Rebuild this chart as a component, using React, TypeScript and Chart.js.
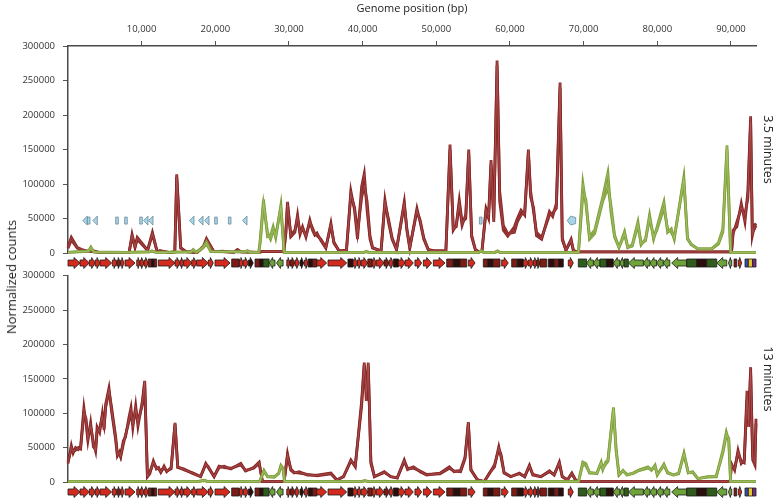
import React, { useEffect, useRef } from 'react';
import { Chart, registerables } from 'chart.js';
Chart.register(...registerables);

const FONT = "'Open Sans', 'Noto Sans', sans-serif";
const X_MAX = 93400;
const xTickValues = [10000, 20000, 30000, 40000, 50000, 60000, 70000, 80000, 90000];
const yTickValues = [0, 50000, 100000, 150000, 200000, 250000, 300000];
const panelLabels = ['3.5 minutes', '13 minutes'];

// [genome position (bp), replicate 1, replicate 2]
const topRed: [number, number, number][] = [
  [0, 9000, 7000], [450, 22700, 19000], [1260, 8000, 7000], [1900, 5000, 4000], [2500, 3000, 2500],
  [3500, 3000, 2000], [4200, 1000, 800], [8300, 1000, 800], [8700, 27000, 24000], [9100, 9000, 8000],
  [9400, 22700, 20000], [10800, 4000, 3500], [11460, 30000, 27000], [12100, 2000, 2000], [12500, 3500, 3000],
  [13800, 500, 500], [14500, 2000, 1500], [14760, 114000, 110000], [15300, 8000, 7000], [16000, 2000, 2000],
  [17500, 800, 800], [18400, 10000, 9000], [18800, 21000, 18000], [19800, 2000, 2000], [21000, 2500, 2000],
  [22500, 1000, 1000], [23000, 5000, 4000], [23500, 1500, 1500], [25900, 1000, 1000], [26300, 2000, 2000],
  [29300, 2000, 2000], [29570, 30000, 28000], [29800, 74000, 70000], [30250, 23600, 26000], [30800, 30000, 33000],
  [31160, 55000, 50000], [31500, 27000, 30000], [31840, 38000, 35000], [32300, 23000, 25000], [32830, 47700, 44000],
  [33200, 33000, 36000], [33500, 26000, 28000], [33800, 29000, 25000], [34330, 18000, 20000], [35000, 7000, 8000],
  [35690, 43000, 40000], [36100, 14000, 16000], [36800, 3000, 3000], [37800, 3000, 4000], [38400, 89700, 84000],
  [38900, 62000, 66000], [39300, 20000, 30000], [39860, 96000, 80000], [40220, 115000, 98000], [40600, 62000, 75000],
  [41000, 20000, 25000], [41350, 7000, 8000], [42500, 3000, 3000], [43030, 76700, 72000], [43500, 45000, 50000],
  [44000, 20000, 22000], [44600, 5000, 5000], [45650, 74000, 70000], [46000, 33000, 36000], [46400, 7000, 8000],
  [47370, 64700, 60000], [47800, 45000, 48000], [48300, 20000, 22000], [48900, 5000, 5000], [49700, 3000, 3000],
  [51300, 3000, 3000], [51860, 157000, 150000], [52300, 33000, 36000], [52700, 40000, 38000], [53120, 76700, 70000],
  [53500, 45000, 40000], [54000, 50000, 56000], [54400, 150000, 145000], [54800, 23000, 26000], [55300, 5000, 5000],
  [55800, 1500, 1500], [56200, 3000, 3000], [56750, 64700, 60000], [57100, 55000, 50000], [57430, 134600, 128000],
  [57800, 45000, 50000], [58250, 279000, 272000], [58600, 75000, 90000], [59100, 33000, 40000], [59700, 24600, 28000],
  [60600, 38000, 30000], [61000, 50000, 45000], [61500, 62000, 55000], [62000, 55000, 60000], [62500, 150000, 145000],
  [62800, 81000, 90000], [63200, 66000, 60000], [63600, 25000, 30000], [64300, 20000, 22000], [65360, 60000, 55000],
  [65800, 53000, 58000], [66300, 72000, 65000], [66800, 247000, 240000], [67100, 19000, 22000], [67600, 4000, 4000],
  [68300, 20000, 18000], [68600, 4000, 4000], [69000, 1500, 1500], [89900, 1500, 1500], [90100, 5000, 4000],
  [90300, 33000, 28000], [90800, 38000, 45000], [91400, 72000, 65000], [91900, 45000, 55000], [92300, 90000, 80000],
  [92670, 198000, 190000], [92900, 25000, 30000], [93200, 40000, 35000], [93400, 43000, 40000],
];

const topGreen: [number, number, number][] = [
  [0, 1000, 800], [2800, 3000, 2500], [3100, 8700, 7000], [3500, 1500, 1200], [8000, 1000, 1000],
  [11000, 1500, 1500], [11400, 3000, 2500], [12000, 800, 800], [16700, 1500, 1500], [17000, 5000, 4000],
  [17400, 1000, 1000], [18300, 8000, 7000], [18800, 16000, 13000], [19400, 2000, 2000], [24000, 1500, 1500],
  [24370, 3500, 3000], [24700, 1000, 1000], [25900, 1000, 1000], [26100, 20000, 15000], [26540, 77700, 70000],
  [27080, 23600, 30000], [27500, 25000, 20000], [27850, 38000, 32000], [28200, 22000, 26000], [28900, 69500, 65000],
  [29340, 1000, 1000], [40200, 1000, 1000], [40500, 2500, 2000], [40800, 1000, 1000], [55800, 1000, 1000],
  [56070, 3500, 3000], [56400, 1000, 1000], [58000, 1000, 1000], [58300, 3000, 2500], [58600, 1000, 1000],
  [69300, 1000, 1000], [69900, 100800, 85000], [70300, 72000, 78000], [70800, 23600, 20000], [71500, 33000, 28000],
  [72600, 81000, 75000], [73290, 116000, 95000], [73700, 60000, 70000], [74200, 23000, 26000], [74800, 8000, 8000],
  [75550, 31000, 27000], [76000, 8000, 8000], [76600, 12000, 10000], [77370, 45000, 40000], [77800, 12000, 14000],
  [78400, 20000, 18000], [78950, 55000, 50000], [79500, 20000, 24000], [79900, 35000, 32000], [80900, 74000, 65000],
  [81400, 30000, 35000], [81900, 35000, 30000], [82300, 20000, 22000], [83600, 110000, 105000], [84100, 20000, 22000],
  [84600, 13000, 12000], [85500, 6000, 6000], [87400, 6000, 6000], [88300, 15000, 13000], [88900, 35000, 30000],
  [89460, 156000, 150000], [89950, 1000, 1000], [93400, 1000, 1000],
];

const bottomRed: [number, number, number][] = [
  [0, 27000, 30000], [450, 53000, 48000], [700, 42000, 45000], [1030, 50000, 46000], [1400, 47000, 50000],
  [1710, 51000, 48000], [2160, 108000, 100000], [2450, 85000, 92000], [2700, 60000, 65000], [3070, 86000, 80000],
  [3450, 51000, 58000], [3750, 47000, 45000], [3950, 80000, 72000], [4300, 72000, 78000], [4660, 99000, 95000],
  [4900, 76000, 82000], [5110, 113000, 108000], [5560, 136500, 132000], [5900, 104000, 110000], [6470, 61000, 66000],
  [6700, 38000, 42000], [7000, 44000, 40000], [7150, 38000, 36000], [7510, 60000, 55000], [7800, 65000, 68000],
  [8280, 94000, 88000], [8550, 108000, 100000], [8800, 79000, 85000], [9190, 111000, 105000], [9500, 81000, 88000],
  [10100, 118000, 112000], [10410, 147000, 145000], [10780, 7600, 9000], [11100, 12000, 14000], [11590, 30700, 28000],
  [12000, 19000, 21000], [12300, 21000, 19000], [12600, 14000, 15000], [13040, 23000, 21000], [13400, 15000, 16000],
  [14000, 21000, 19000], [14530, 86000, 84000], [14900, 21000, 22000], [15700, 19000, 18000], [17000, 12000, 13000],
  [18000, 7600, 8000], [18700, 27000, 25000], [19000, 22000, 23000], [19830, 7600, 8000], [20500, 21000, 23000],
  [21200, 23000, 21000], [22100, 19000, 20000], [23460, 27000, 25000], [24100, 16000, 17000], [25200, 21000, 20000],
  [25950, 29000, 27000], [26400, 500, 500], [29340, 500, 500], [29800, 41000, 38000], [30250, 17000, 19000],
  [30700, 13000, 14000], [31400, 15000, 13000], [32500, 10000, 11000], [33800, 10000, 9000], [35690, 13000, 12000],
  [36500, 3000, 3000], [37400, 7600, 8000], [38400, 32000, 30000], [39000, 22000, 25000], [39860, 118000, 110000],
  [40220, 173500, 170000], [40500, 118000, 130000], [40760, 173500, 168000], [41120, 27000, 30000], [41600, 7600, 8000],
  [42940, 15000, 14000], [43800, 7600, 8000], [44700, 6000, 6000], [45650, 32000, 30000], [46100, 18000, 20000],
  [46900, 22000, 20000], [47800, 15000, 16000], [48700, 10000, 11000], [50500, 13000, 12000], [51770, 22000, 20000],
  [52400, 15000, 16000], [53300, 17000, 15000], [53900, 36000, 34000], [54350, 87000, 85000], [54700, 17000, 18000],
  [55600, 3000, 3000], [56500, 500, 500], [57200, 13000, 12000], [57900, 22000, 25000], [58480, 51000, 48000],
  [58790, 36000, 40000], [59200, 13000, 14000], [60100, 7600, 8000], [61280, 13000, 12000], [62000, 7600, 8000],
  [62640, 24500, 23000], [63100, 10000, 11000], [64200, 7600, 8000], [65350, 16300, 15000], [66000, 10000, 11000],
  [66700, 29000, 27000], [67100, 7600, 8000], [67800, 3000, 3000], [68400, 13000, 12000], [68900, 3000, 3000],
  [69300, 500, 500], [89900, 500, 500], [90050, 27000, 24000], [90500, 17000, 20000], [90960, 46000, 42000],
  [91400, 27000, 30000], [91800, 32000, 28000], [92180, 132700, 120000], [92400, 80000, 90000], [92670, 167000, 160000],
  [92950, 32000, 38000], [93250, 24500, 30000], [93400, 92000, 85000],
];

const bottomGreen: [number, number, number][] = [
  [0, 500, 500], [17500, 500, 500], [18500, 2500, 2000], [19000, 500, 500], [26000, 500, 500],
  [26600, 17000, 15000], [27100, 7600, 8000], [28000, 7600, 7000], [28600, 13000, 12000], [28900, 24500, 22000],
  [29200, 20000, 18000], [29400, 500, 500], [39800, 500, 500], [40300, 2000, 2000], [40800, 500, 500],
  [69300, 500, 500], [69890, 29000, 26000], [70300, 27000, 24000], [70800, 13000, 14000], [71800, 13000, 12000],
  [72380, 29000, 27000], [72600, 18000, 20000], [73000, 29000, 26000], [73300, 32000, 30000], [74050, 108500, 105000],
  [74400, 46000, 50000], [74800, 10000, 11000], [75350, 17000, 16000], [75900, 10000, 11000], [76700, 13000, 12000],
  [77400, 17000, 16000], [78730, 22000, 20000], [79200, 17000, 18000], [79700, 24500, 22000], [80000, 10000, 11000],
  [80900, 26000, 24000], [81400, 13000, 14000], [82200, 10000, 10000], [82900, 13000, 12000], [83620, 42000, 40000],
  [84200, 13000, 14000], [84800, 15000, 14000], [85500, 5000, 5000], [86800, 7600, 7000], [88000, 7600, 8000],
  [88900, 46000, 42000], [89370, 72500, 68000], [89700, 60000, 64000], [89950, 500, 500], [93400, 500, 500],
];

// genes: [start, end, direction (1 right, -1 left, 0 block), colour key]
const genes: [number, number, number, string][] = [
  [0, 1630, 1, 'r'], [1630, 2900, 1, 'r'], [2900, 3670, 1, 'r'], [3670, 4340, 1, 'r'], [4340, 5930, 1, 'r'],
  [6020, 6610, 1, 'r'], [6610, 7150, 1, 'm'], [7150, 7600, 1, 'r'], [7740, 9100, 1, 'r'], [9330, 9770, 1, 'r'],
  [9770, 10320, 1, 'r'], [10320, 10900, 1, 'r'], [10900, 11350, 0, 'm'], [11350, 11700, 0, 'k'], [11700, 12030, 0, 'm'],
  [12260, 14530, 1, 'r'], [14530, 15200, 1, 'r'], [15200, 15700, 1, 'r'], [15700, 16800, 1, 'r'], [16800, 17460, 1, 'r'],
  [17460, 19050, 1, 'r'], [19050, 19730, 1, 'r'], [19960, 22000, 1, 'r'], [22220, 23260, 0, 'm'], [23260, 23800, 1, 'r'],
  [23800, 24480, 1, 'r'], [24480, 25150, 1, 'k'], [25390, 26000, 0, 'm'], [26000, 26500, 0, 'k'], [26500, 27300, 0, 'd'],
  [27300, 28100, -1, 'g'], [28300, 29200, -1, 'g'], [29700, 30140, 1, 'r'], [30140, 30820, 1, 'm'], [30820, 31400, 1, 'r'],
  [31500, 32000, 1, 'k'], [32100, 32600, 1, 'r'], [32600, 33200, 0, 'k'], [33200, 33770, 0, 'm'], [33770, 35120, 1, 'r'],
  [35300, 37840, 1, 'r'], [38000, 38700, 0, 'k'], [38700, 39300, 1, 'r'], [39300, 39800, 1, 'r'], [39800, 40700, 1, 'r'],
  [40700, 41300, 0, 'm'], [41300, 41850, 1, 'r'], [41850, 42900, 1, 'r'], [42900, 43600, 1, 'm'], [43600, 44170, 1, 'r'],
  [44170, 44850, 0, 'k'], [44850, 45750, 1, 'r'], [45750, 46880, 1, 'r'], [47100, 48010, 1, 'r'], [48240, 49370, 1, 'r'],
  [49600, 51180, 1, 'r'], [51410, 52300, 0, 'm'], [52300, 53220, 0, 'k'], [53220, 54130, 0, 'm'], [54350, 55260, 1, 'r'],
  [56380, 57000, 0, 'm'], [57000, 57700, 0, 'k'], [57700, 58650, 0, 'm'], [58870, 59770, 1, 'r'], [60230, 61000, 0, 'm'],
  [61000, 61810, 0, 'k'], [61810, 62490, 1, 'r'], [62490, 63200, 1, 'r'], [63200, 63600, 1, 'r'], [63600, 64080, 1, 'm'],
  [64080, 64990, 0, 'm'], [65200, 66000, 0, 'k'], [66000, 66600, 0, 'm'], [66600, 67240, 0, 'k'], [67920, 68600, 1, 'r'],
  [69280, 70410, 0, 'd'], [70410, 71320, -1, 'g'], [71320, 72220, -1, 'g'], [72220, 73100, 0, 'd'], [73100, 74030, 0, 'k'],
  [74030, 74930, -1, 'g'], [74930, 75500, -1, 'g'], [75500, 76070, 0, 'd'], [76070, 78110, -1, 'g'], [78110, 79010, -1, 'g'],
  [79010, 79910, -1, 'g'], [79910, 80810, -1, 'g'], [80810, 81700, -1, 'g'], [81950, 83990, -1, 'g'], [83990, 85350, 0, 'd'],
  [85350, 86700, 0, 'k'], [86700, 88070, 0, 'd'], [88070, 89430, -1, 'g'], [89660, 90110, -1, 'g'], [90420, 90780, 0, 'm'],
  [91000, 91460, 1, 'r'], [91910, 92360, 0, 'b'], [92360, 92950, 0, 'y'], [92950, 93400, 0, 'p'],
];

// small light-blue features in the top panel: [position, shape], drawn at markerLevel
const markers: [number, string][] = [
  [2350, 'L'], [2810, 'B'], [3710, 'L'], [6650, 'B'], [7870, 'B'], [9910, 'B'], [10590, 'L'], [11270, 'L'],
  [16830, 'L'], [18060, 'L'], [18870, 'L'], [20090, 'B'], [21950, 'B'], [24030, 'L'], [56030, 'B'], [68380, 'D'],
];
const markerLevel = 47000;

const GENE_COLORS: Record<string, string> = {
  r: '#d42a1d', m: '#7c1c16', k: '#2b0f0c', g: '#6ea33a', d: '#2f5b1d', b: '#3550b0', y: '#e6c62a', p: '#7a2f86',
};

const RED = '#8a2626';
const RED_LIGHT = 'rgba(190,110,110,0.55)';
const GREEN = '#7fa13a';
const GREEN_LIGHT = 'rgba(190,214,140,0.6)';

function seriesSets(rows: [number, number, number][], color: string, light: string, baseOrder: number) {
  const r1 = rows.map((r) => ({ x: r[0], y: r[1] }));
  const r2 = rows.map((r) => ({ x: r[0], y: r[2] }));
  const mk = (data: any, c: string, w: number, order: number) => ({
    data, borderColor: c, borderWidth: w, pointRadius: 0, tension: 0, fill: false, order, clip: 4,
  });
  return [mk(r1, color, 2.8, baseOrder + 3), mk(r2, color, 2.8, baseOrder + 2), mk(r1, light, 0.6, baseOrder + 1), mk(r2, light, 0.6, baseOrder)];
}

const genePlugin = {
  id: 'genes',
  afterDraw(chart: any) {
    const { ctx, chartArea, scales } = chart;
    const x = scales.x;
    const cy = chartArea.bottom + 10;
    ctx.save();
    ctx.lineWidth = 0.8;
    ctx.strokeStyle = '#1a1a1a';
    for (const [s, e, dir, c] of genes) {
      const x0 = x.getPixelForValue(s);
      const x1 = x.getPixelForValue(e);
      const w = x1 - x0;
      ctx.beginPath();
      if (dir === 0) {
        ctx.rect(x0, cy - 4, w, 8);
      } else {
        const head = Math.min(6, w * 0.6);
        if (dir > 0) {
          ctx.moveTo(x0, cy - 3);
          ctx.lineTo(x1 - head, cy - 3);
          ctx.lineTo(x1 - head, cy - 5.5);
          ctx.lineTo(x1, cy);
          ctx.lineTo(x1 - head, cy + 5.5);
          ctx.lineTo(x1 - head, cy + 3);
          ctx.lineTo(x0, cy + 3);
        } else {
          ctx.moveTo(x1, cy - 3);
          ctx.lineTo(x0 + head, cy - 3);
          ctx.lineTo(x0 + head, cy - 5.5);
          ctx.lineTo(x0, cy);
          ctx.lineTo(x0 + head, cy + 5.5);
          ctx.lineTo(x0 + head, cy + 3);
          ctx.lineTo(x1, cy + 3);
        }
        ctx.closePath();
      }
      ctx.fillStyle = GENE_COLORS[c];
      ctx.fill();
      ctx.stroke();
    }
    ctx.restore();
  },
};

const markerPlugin = {
  id: 'markers',
  afterDatasetsDraw(chart: any) {
    const { ctx, scales } = chart;
    const yPix = scales.y.getPixelForValue(markerLevel);
    ctx.save();
    ctx.fillStyle = '#a8d4e8';
    ctx.strokeStyle = '#6b8c9c';
    ctx.lineWidth = 0.8;
    for (const [pos, shape] of markers) {
      const px = scales.x.getPixelForValue(pos);
      ctx.beginPath();
      if (shape === 'L') {
        ctx.moveTo(px + 2, yPix - 4.5);
        ctx.lineTo(px - 2.5, yPix);
        ctx.lineTo(px + 2, yPix + 4.5);
        ctx.closePath();
      } else if (shape === 'B') {
        ctx.rect(px - 1.3, yPix - 3.5, 2.6, 7);
      } else {
        ctx.moveTo(px - 4.5, yPix);
        ctx.lineTo(px - 1, yPix - 4.5);
        ctx.lineTo(px + 4, yPix - 3);
        ctx.lineTo(px + 4, yPix + 3);
        ctx.lineTo(px - 1, yPix + 4.5);
        ctx.closePath();
      }
      ctx.fill();
      ctx.stroke();
    }
    ctx.restore();
  },
};

function yAxis() {
  return {
    type: 'linear',
    position: 'left',
    min: 0,
    max: 300000,
    afterBuildTicks: (s: any) => { s.ticks = yTickValues.map((v) => ({ value: v })); },
    afterFit: (s: any) => { s.width = 68; },
    ticks: { callback: (v: any) => String(v), padding: 8, color: '#333', font: { family: FONT, size: 9.5 } },
    grid: { display: true, drawOnChartArea: false, drawTicks: true, tickLength: 5, color: '#555' },
    border: { display: true, color: '#4a4a4a', width: 1.5 },
  };
}

function rightAxis(label: string) {
  return {
    type: 'linear',
    position: 'right',
    min: 0,
    max: 1,
    afterFit: (s: any) => { s.width = 20; },
    ticks: { display: false },
    grid: { display: false, drawTicks: false },
    border: { display: false },
    title: { display: true, text: label, color: '#222', font: { family: FONT, size: 12.5 }, padding: { top: 1, bottom: 0 } },
  };
}

export default function App() {
  const refA = useRef<HTMLCanvasElement>(null);
  const refB = useRef<HTMLCanvasElement>(null);

  useEffect(() => {
    const common = { responsive: false, animation: false, plugins: { legend: { display: false }, tooltip: { enabled: false } } };
    const chartA = new Chart(refA.current as HTMLCanvasElement, {
      type: 'line',
      data: {
        datasets: [
          ...seriesSets(topRed, RED, RED_LIGHT, 20),
          ...seriesSets(topGreen, GREEN, GREEN_LIGHT, 0),
        ],
      },
      options: {
        ...common,
        layout: { padding: { top: 0, bottom: 17, left: 0, right: 0 } },
        scales: {
          x: {
            type: 'linear',
            position: 'top',
            min: 0,
            max: X_MAX,
            afterBuildTicks: (s: any) => { s.ticks = xTickValues.map((v) => ({ value: v })); },
            afterFit: (s: any) => { s.height = 46; },
            ticks: {
              callback: (v: any) => Number(v).toLocaleString('en-US'),
              padding: 6, maxRotation: 0, autoSkip: false, color: '#333', font: { family: FONT, size: 9.5 },
            },
            grid: { display: true, drawOnChartArea: false, drawTicks: true, tickLength: 5, color: '#555' },
            border: { display: true, color: '#4a4a4a', width: 1.5 },
            title: { display: true, text: 'Genome position (bp)', color: '#222', font: { family: FONT, size: 11 }, padding: { top: 2, bottom: 0 } },
          },
          y: yAxis(),
          yR: rightAxis(panelLabels[0]),
        },
      } as any,
      plugins: [genePlugin, markerPlugin],
    } as any);

    const chartB = new Chart(refB.current as HTMLCanvasElement, {
      type: 'line',
      data: {
        datasets: [
          ...seriesSets(bottomRed, RED, RED_LIGHT, 20),
          ...seriesSets(bottomGreen, GREEN, GREEN_LIGHT, 0),
        ],
      },
      options: {
        ...common,
        layout: { padding: { top: 12, bottom: 18, left: 0, right: 0 } },
        scales: {
          x: { type: 'linear', display: false, min: 0, max: X_MAX },
          y: yAxis(),
          yR: rightAxis(panelLabels[1]),
        },
      } as any,
      plugins: [genePlugin],
    } as any);

    return () => {
      chartA.destroy();
      chartB.destroy();
    };
  }, []);

  return (
    <div style={{ position: 'absolute', left: 0, top: 0, width: 776, height: 500, background: '#fff' }}>
      <canvas ref={refA} width={776} height={270} style={{ position: 'absolute', left: 0, top: 0 }} />
      <canvas ref={refB} width={776} height={238} style={{ position: 'absolute', left: 0, top: 262 }} />
      <div
        style={{
          position: 'absolute', left: 11, top: 277, transform: 'translate(-50%, -50%) rotate(-90deg)',
          whiteSpace: 'nowrap', fontFamily: FONT, fontSize: 13, color: '#222',
        }}
      >
        Normalized counts
      </div>
    </div>
  );
}
